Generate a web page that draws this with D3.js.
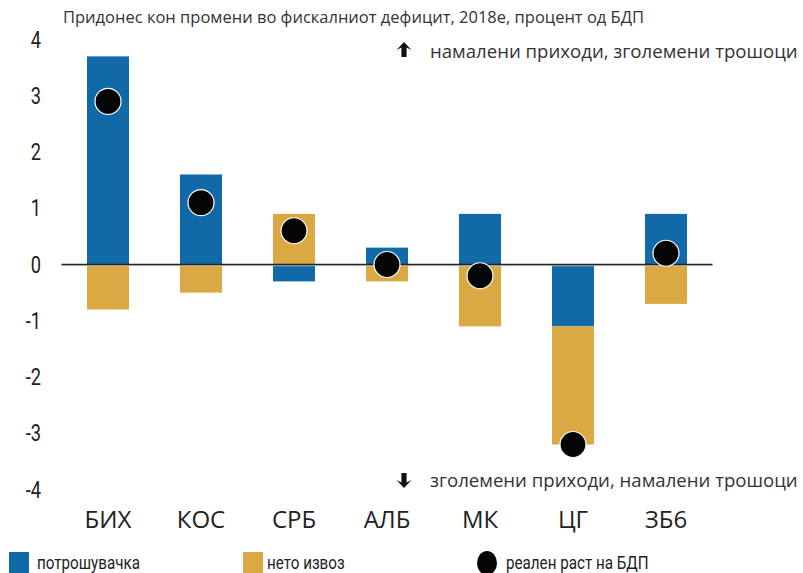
<!DOCTYPE html>
<html>
<head>
<meta charset="utf-8">
<script src="https://cdn.jsdelivr.net/npm/d3@7"></script>
<style>
  body { margin: 0; background: #fff; }
  svg { display: block; }
</style>
</head>
<body>
<svg id="chart" width="803" height="573"></svg>
<script>
// data
var countries = ['БИХ', 'КОС', 'СРБ', 'АЛБ', 'МК', 'ЦГ', 'ЗБ6'];
var consumption = [3.7, 1.6, -0.3, 0.3, 0.9, -1.1, 0.9];
var netExport = [-0.8, -0.5, 0.9, -0.3, -1.1, -2.1, -0.7];
var gdpGrowth = [2.9, 1.1, 0.6, 0.0, -0.2, -3.2, 0.2];
var yTicks = [4, 3, 2, 1, 0, -1, -2, -3, -4];

var titleText = 'Придонес кон промени во фискалниот дефицит, 2018е, процент од БДП';
var upText = 'намалени приходи, зголемени трошоци';
var downText = 'зголемени приходи, намалени трошоци';
var legendLabels = ['потрошувачка', 'нето извоз', 'реален раст на БДП'];

var blue = '#1269a8';
var yellow = '#dba943';
var narrow = "Roboto, sans-serif";   // squeezed with scaleX below
var sans = "'Open Sans', 'Noto Sans', sans-serif";

var svg = d3.select('#chart');

var x = d3.scaleBand()
    .domain(countries)
    .range([61.5, 712.5])
    .paddingInner(0.548)
    .paddingOuter(0.274);

var y = d3.scaleLinear()
    .domain([-4, 4])
    .range([489.5, 39.5]);

var rows = countries.map(function(c, i){
    return {country: c, consumption: consumption[i], netExport: netExport[i], gdp: gdpGrowth[i]};
});

var stack = d3.stack()
    .keys(['consumption', 'netExport'])
    .offset(d3.stackOffsetDiverging);
var series = stack(rows);
var colors = {consumption: blue, netExport: yellow};

// title
svg.append('text')
    .attr('x', 63)
    .attr('y', 23)
    .style('font-family', sans)
    .style('font-size', '16.5px')
    .style('fill', '#333')
    .text(titleText);

// y axis labels (plain hyphen, condensed look)
var yAxis = d3.axisLeft(y)
    .tickValues(yTicks)
    .tickSize(0)
    .tickPadding(0)
    .tickFormat(function(d){ return String(d); });
var yg = svg.append('g')
    .attr('transform', 'translate(41,0) scale(0.76,1)')
    .call(yAxis);
yg.select('.domain').remove();
yg.selectAll('text')
    .style('font-family', narrow)
    .style('font-size', '24px')
    .style('fill', '#222');

// bars
svg.append('g')
    .selectAll('g')
    .data(series)
    .join('g')
    .attr('fill', function(d){ return colors[d.key]; })
    .selectAll('rect')
    .data(function(d){ return d; })
    .join('rect')
    .attr('x', function(d){ return x(d.data.country); })
    .attr('width', x.bandwidth())
    .attr('y', function(d){ return y(Math.max(d[0], d[1])); })
    .attr('height', function(d){ return Math.abs(y(d[0]) - y(d[1])); });

// zero line
svg.append('line')
    .attr('x1', x.range()[0])
    .attr('x2', x.range()[1])
    .attr('y1', y(0) + 1.2)
    .attr('y2', y(0) + 1.2)
    .style('stroke', '#ccc')
    .style('stroke-width', 1);
svg.append('line')
    .attr('x1', x.range()[0])
    .attr('x2', x.range()[1])
    .attr('y1', y(0))
    .attr('y2', y(0))
    .style('stroke', '#222')
    .style('stroke-width', 1.4);

// gdp dots
svg.append('g')
    .selectAll('circle')
    .data(rows)
    .join('circle')
    .attr('cx', function(d){ return x(d.country) + x.bandwidth() / 2; })
    .attr('cy', function(d){ return y(d.gdp); })
    .attr('r', 13)
    .style('fill', '#050505')
    .style('stroke', '#fff')
    .style('stroke-width', 1.2);

// category labels
svg.append('g')
    .selectAll('text')
    .data(countries)
    .join('text')
    .attr('x', function(d){ return x(d) + x.bandwidth() / 2; })
    .attr('y', 528)
    .attr('text-anchor', 'middle')
    .style('font-family', sans)
    .style('font-size', '24px')
    .style('fill', '#222')
    .text(function(d){ return d; });

// direction notes
function arrow(cx, tipY, dir){
    // dir -1 points up, 1 points down
    var h = 8 * dir;
    var path = d3.path();
    path.moveTo(cx, tipY);
    path.lineTo(cx + 7.5, tipY - h);
    path.lineTo(cx + 2.6, tipY - h * 0.7);
    path.lineTo(cx + 2.6, tipY - 15 * dir);
    path.lineTo(cx - 2.6, tipY - 15 * dir);
    path.lineTo(cx - 2.6, tipY - h * 0.7);
    path.lineTo(cx - 7.5, tipY - h);
    path.closePath();
    svg.append('path').attr('d', path.toString()).style('fill', '#111');
}
arrow(404, 42, -1);
arrow(404, 488, 1);

svg.append('text')
    .attr('x', 430)
    .attr('y', 58)
    .style('font-family', sans)
    .style('font-size', '18.6px')
    .style('fill', '#333')
    .text(upText);
svg.append('text')
    .attr('x', 430)
    .attr('y', 487)
    .style('font-family', sans)
    .style('font-size', '18.6px')
    .style('fill', '#333')
    .text(downText);

// legend
var legendItems = [
    {label: legendLabels[0], color: blue, shape: 'rect', x: 9, tx: 37},
    {label: legendLabels[1], color: yellow, shape: 'rect', x: 243, tx: 267},
    {label: legendLabels[2], color: '#050505', shape: 'dot', x: 477, tx: 506}
];
var legend = svg.append('g');
legendItems.forEach(function(item){
    if(item.shape == 'rect'){
        legend.append('rect')
            .attr('x', item.x).attr('y', 552).attr('width', 20).attr('height', 22)
            .style('fill', item.color);
    }
    else{
        legend.append('ellipse')
            .attr('cx', item.x + 10).attr('cy', 563).attr('rx', 10).attr('ry', 12)
            .style('fill', item.color);
    }
    legend.append('text')
        .attr('transform', 'translate(' + item.tx + ',569) scale(0.8,1)')
        .style('font-family', narrow)
        .style('font-size', '19px')
        .style('fill', '#222')
        .text(item.label);
});
</script>
</body>
</html>
